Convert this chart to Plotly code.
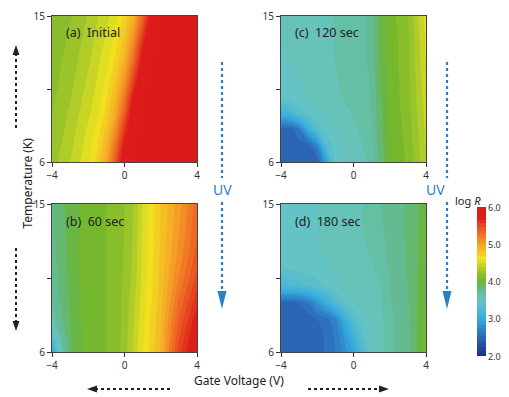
import plotly.graph_objects as go

# ---------------- data ----------------
VOLTS = [-4, -3.5, -3, -2.5, -2, -1.5, -1, -0.5, 0, 0.5, 1, 1.5, 2, 3, 4]   # gate voltage (V)
TEMPS = [6, 7, 8, 9, 10, 11, 12, 13.5, 15]                                 # temperature (K)

# log R, one row per temperature (bottom -> top), one column per gate voltage
Z_INITIAL = [
    [4.25, 4.33, 4.40, 4.49, 4.58, 4.75, 5.00, 5.45, 5.95, 6.00, 6.00, 6.00, 6.00, 6.00, 6.00],
    [4.23, 4.30, 4.37, 4.46, 4.55, 4.69, 4.91, 5.29, 5.82, 6.00, 6.00, 6.00, 6.00, 6.00, 6.00],
    [4.22, 4.27, 4.35, 4.43, 4.52, 4.63, 4.82, 5.13, 5.62, 5.97, 6.00, 6.00, 6.00, 6.00, 6.00],
    [4.20, 4.25, 4.32, 4.40, 4.48, 4.57, 4.74, 4.98, 5.42, 5.93, 6.00, 6.00, 6.00, 6.00, 6.00],
    [4.18, 4.23, 4.29, 4.37, 4.45, 4.54, 4.68, 4.90, 5.26, 5.79, 6.00, 6.00, 6.00, 6.00, 6.00],
    [4.17, 4.21, 4.27, 4.34, 4.42, 4.51, 4.62, 4.81, 5.10, 5.58, 5.97, 6.00, 6.00, 6.00, 6.00],
    [4.15, 4.20, 4.24, 4.32, 4.39, 4.48, 4.57, 4.73, 4.97, 5.39, 5.90, 6.00, 6.00, 6.00, 6.00],
    [4.13, 4.17, 4.22, 4.28, 4.35, 4.43, 4.52, 4.64, 4.83, 5.15, 5.65, 5.98, 6.00, 6.00, 6.00],
    [4.10, 4.15, 4.19, 4.24, 4.31, 4.39, 4.47, 4.56, 4.72, 4.95, 5.36, 5.88, 6.00, 6.00, 6.00],
]
Z_60S = [
    [3.00, 3.55, 3.88, 3.98, 4.03, 4.07, 4.10, 4.15, 4.25, 4.42, 4.60, 4.75, 4.92, 5.55, 5.92],
    [3.30, 3.70, 3.89, 3.98, 4.03, 4.07, 4.10, 4.15, 4.24, 4.41, 4.58, 4.73, 4.90, 5.48, 5.85],
    [3.60, 3.78, 3.90, 3.99, 4.03, 4.07, 4.10, 4.15, 4.23, 4.39, 4.57, 4.72, 4.88, 5.40, 5.78],
    [3.72, 3.80, 3.91, 3.99, 4.04, 4.07, 4.10, 4.15, 4.23, 4.37, 4.55, 4.70, 4.86, 5.32, 5.68],
    [3.75, 3.82, 3.92, 3.99, 4.04, 4.07, 4.10, 4.14, 4.22, 4.35, 4.54, 4.69, 4.84, 5.24, 5.58],
    [3.76, 3.83, 3.93, 4.00, 4.04, 4.07, 4.10, 4.14, 4.21, 4.33, 4.53, 4.68, 4.83, 5.18, 5.50],
    [3.77, 3.84, 3.94, 4.00, 4.04, 4.07, 4.10, 4.14, 4.21, 4.32, 4.52, 4.67, 4.82, 5.13, 5.44],
    [3.78, 3.85, 3.95, 4.00, 4.04, 4.07, 4.10, 4.14, 4.20, 4.31, 4.51, 4.66, 4.81, 5.09, 5.39],
    [3.78, 3.85, 3.95, 4.00, 4.04, 4.07, 4.10, 4.14, 4.20, 4.30, 4.50, 4.65, 4.80, 5.06, 5.35],
]
Z_120S = [
    [2.45, 2.45, 2.45, 2.45, 2.45, 2.90, 3.45, 3.50, 3.55, 3.58, 3.63, 3.84, 3.99, 4.12, 4.38],
    [2.45, 2.45, 2.45, 2.45, 2.70, 3.30, 3.45, 3.52, 3.56, 3.60, 3.67, 3.86, 4.00, 4.13, 4.40],
    [2.45, 2.45, 2.60, 3.00, 3.35, 3.45, 3.50, 3.54, 3.58, 3.62, 3.69, 3.87, 4.01, 4.14, 4.42],
    [3.10, 3.15, 3.35, 3.42, 3.47, 3.50, 3.53, 3.57, 3.61, 3.63, 3.70, 3.88, 4.02, 4.15, 4.44],
    [3.45, 3.46, 3.48, 3.50, 3.53, 3.55, 3.57, 3.61, 3.64, 3.67, 3.71, 3.90, 4.03, 4.16, 4.46],
    [3.47, 3.48, 3.50, 3.52, 3.54, 3.56, 3.59, 3.62, 3.65, 3.67, 3.71, 3.92, 4.03, 4.16, 4.48],
    [3.49, 3.50, 3.51, 3.52, 3.54, 3.56, 3.60, 3.63, 3.65, 3.68, 3.72, 3.93, 4.04, 4.17, 4.50],
    [3.50, 3.51, 3.52, 3.53, 3.55, 3.57, 3.605, 3.64, 3.66, 3.68, 3.72, 3.94, 4.04, 4.17, 4.52],
    [3.50, 3.51, 3.52, 3.53, 3.55, 3.57, 3.61, 3.64, 3.66, 3.68, 3.72, 3.95, 4.05, 4.20, 4.55],
]
Z_180S = [
    [2.42, 2.42, 2.43, 2.44, 2.46, 2.52, 2.60, 2.75, 2.92, 3.25, 3.45, 3.55, 3.67, 3.76, 4.06],
    [2.42, 2.42, 2.43, 2.44, 2.46, 2.52, 2.62, 2.82, 3.10, 3.38, 3.50, 3.56, 3.68, 3.77, 4.04],
    [2.42, 2.42, 2.43, 2.45, 2.50, 2.56, 2.69, 3.02, 3.30, 3.45, 3.52, 3.57, 3.68, 3.78, 4.02],
    [2.45, 2.46, 2.50, 2.60, 2.80, 3.00, 3.25, 3.40, 3.48, 3.53, 3.56, 3.59, 3.69, 3.79, 4.00],
    [3.20, 3.22, 3.25, 3.30, 3.36, 3.42, 3.47, 3.51, 3.54, 3.56, 3.57, 3.60, 3.70, 3.80, 3.99],
    [3.38, 3.40, 3.42, 3.44, 3.46, 3.49, 3.52, 3.54, 3.56, 3.57, 3.58, 3.63, 3.71, 3.81, 3.98],
    [3.44, 3.45, 3.46, 3.47, 3.49, 3.51, 3.53, 3.55, 3.57, 3.58, 3.61, 3.67, 3.72, 3.81, 3.97],
    [3.45, 3.46, 3.47, 3.48, 3.50, 3.52, 3.54, 3.56, 3.57, 3.595, 3.64, 3.69, 3.72, 3.82, 3.96],
    [3.45, 3.46, 3.47, 3.48, 3.50, 3.52, 3.54, 3.56, 3.57, 3.60, 3.66, 3.70, 3.72, 3.82, 3.95],
]
PANEL_LABELS = ["(a)  Initial", "(b)  60 sec", "(c)  120 sec", "(d)  180 sec"]
X_TICKS = [-4, 0, 4]
Y_TICKS = [6, 10.5, 15]
Y_TICK_TEXT = ["6", "", "15"]
CBAR_MIN, CBAR_MAX = 2, 6
CBAR_TICKS = [2, 3, 4, 5, 6]
CBAR_TEXT = ["2.0", "3.0", "4.0", "5.0", "6.0"]

# ---------------- layout helpers ----------------
# the page body adds an 8 px margin, so figure coordinates are target pixels minus 8
W, H = 509, 397
OFF = 8
def fx(p): return (p - OFF) / W
def fy(p): return 1 - (p - OFF) / H

FONT = "Noto Sans"
UVC = "#2b7fc4"
DARK = "#222222"

COLORSCALE = [
    [0.000, "#1a2f8c"],
    [0.125, "#2b66b5"],
    [0.250, "#36ace0"],
    [0.375, "#68c5c2"],
    [0.450, "#63b98a"],
    [0.500, "#6bb52e"],
    [0.575, "#a6c82a"],
    [0.650, "#f0e41f"],
    [0.750, "#f6a428"],
    [0.850, "#ec5a22"],
    [0.930, "#dd1c1b"],
    [1.000, "#dc1a1a"],
]

panels = [  # (z, x-range px, y-range px)
    (Z_INITIAL, (52, 197), (16, 162)),
    (Z_60S, (52, 197), (204, 352)),
    (Z_120S, (281, 426), (16, 162)),
    (Z_180S, (281, 426), (204, 352)),
]

fig = go.Figure()
layout = {}
annotations = []
for i, (z, (x0, x1), (y0, y1)) in enumerate(panels):
    n = "" if i == 0 else str(i + 1)
    fig.add_trace(go.Contour(
        x=VOLTS, y=TEMPS, z=z, coloraxis="coloraxis",
        autocontour=False,
        contours=dict(start=2, end=6, size=0.1, coloring="fill", showlines=False),
        line=dict(width=0, smoothing=0.9),
        xaxis="x" + n, yaxis="y" + n, hoverinfo="skip",
    ))
    layout["xaxis" + n] = dict(
        domain=[fx(x0), fx(x1)], anchor="y" + n, range=[-4, 4],
        tickvals=X_TICKS, ticks="outside", ticklen=4, tickcolor="#333",
        showline=True, mirror=True, linecolor="#444", linewidth=1,
        showgrid=False, zeroline=False,
        tickfont=dict(family=FONT, size=10, color="#333"),
    )
    layout["yaxis" + n] = dict(
        domain=[fy(y1), fy(y0)], anchor="x" + n, range=[6, 15],
        tickvals=Y_TICKS, ticktext=Y_TICK_TEXT, ticks="outside", ticklen=4,
        tickcolor="#333", showline=True, mirror=True, linecolor="#444",
        linewidth=1, showgrid=False, zeroline=False,
        tickfont=dict(family=FONT, size=10, color="#333"),
    )
    annotations.append(dict(
        text=PANEL_LABELS[i], xref="paper", yref="paper",
        x=fx(x0 + 12), y=fy(y0 + 17), xanchor="left", yanchor="middle",
        showarrow=False, font=dict(family=FONT, size=12.5, color=DARK),
    ))

# UV labels, axis titles, colorbar title
for ux in (222, 447):
    annotations.append(dict(text="UV", xref="paper", yref="paper",
                            x=fx(ux), y=fy(190), showarrow=False,
                            font=dict(family=FONT, size=14, color=UVC)))
annotations.append(dict(text="Temperature (K)", xref="paper", yref="paper",
                        x=fx(16), y=fy(183), textangle=-90, showarrow=False,
                        font=dict(family=FONT, size=12, color=DARK)))
annotations.append(dict(text="Gate Voltage (V)", xref="paper", yref="paper",
                        x=fx(239), y=fy(390), showarrow=False, borderpad=0,
                        font=dict(family=FONT, size=12, color=DARK)))
annotations.append(dict(text="log <i>R</i>", xref="paper", yref="paper",
                        x=fx(483), y=fy(200), showarrow=False,
                        font=dict(family=FONT, size=11, color=DARK)))

# colour bar geometry (pixels) and its tick labels placed beside the bar
CB_X, CB_TOP, CB_BOT, CB_THICK = 477, 207, 356, 9
for v, t in zip(CBAR_TICKS, CBAR_TEXT):
    ypx = CB_BOT - (v - CBAR_MIN) / (CBAR_MAX - CBAR_MIN) * (CB_BOT - CB_TOP)
    annotations.append(dict(text=t, xref="paper", yref="paper",
                            x=fx(CB_X + CB_THICK + 1), y=fy(ypx),
                            xanchor="left", yanchor="middle", showarrow=False,
                            borderpad=0, font=dict(family=FONT, size=9, color="#333")))

shapes = []
def vline(x, ya, yb, color, w=2.2):
    shapes.append(dict(type="line", xref="paper", yref="paper",
                       x0=fx(x), x1=fx(x), y0=fy(ya), y1=fy(yb),
                       line=dict(color=color, width=w, dash="dot")))
def hline(xa, xb, y, color, w=2.2):
    shapes.append(dict(type="line", xref="paper", yref="paper",
                       x0=fx(xa), x1=fx(xb), y0=fy(y), y1=fy(y),
                       line=dict(color=color, width=w, dash="dot")))
def tri(pts, color):
    path = "M " + " L ".join(f"{fx(a):.5f},{fy(b):.5f}" for a, b in pts) + " Z"
    shapes.append(dict(type="path", xref="paper", yref="paper", path=path,
                       fillcolor=color, line=dict(width=0)))

# UV arrows
for ux in (222, 447):
    vline(ux, 62, 178, UVC)
    vline(ux, 202, 292, UVC)
    tri([(ux - 4.5, 291), (ux + 4.5, 291), (ux, 309)], UVC)

# temperature arrows
vline(16, 128, 54, DARK, 2)
tri([(12.5, 55), (19.5, 55), (16, 45)], DARK)
vline(16, 248, 322, DARK, 2)
tri([(12.5, 321), (19.5, 321), (16, 331)], DARK)

# gate voltage arrows
hline(170, 97, 389, DARK, 2)
tri([(97, 385.5), (97, 392.5), (87, 389)], DARK)
hline(308, 379, 389, DARK, 2)
tri([(379, 385.5), (379, 392.5), (389, 389)], DARK)

fig.update_layout(
    width=W, height=H, margin=dict(l=0, r=0, t=0, b=0, autoexpand=False),
    paper_bgcolor="white", plot_bgcolor="white", showlegend=False,
    coloraxis=dict(
        cmin=CBAR_MIN, cmax=CBAR_MAX, colorscale=COLORSCALE,
        colorbar=dict(
            thickness=CB_THICK, thicknessmode="pixels",
            len=CB_BOT - CB_TOP, lenmode="pixels",
            x=fx(CB_X), xanchor="left", y=fy((CB_TOP + CB_BOT) / 2), yanchor="middle",
            tickvals=CBAR_TICKS, ticks="", showticklabels=False,
            outlinewidth=0, xpad=0, ypad=0,
        ),
    ),
    annotations=annotations, shapes=shapes,
    **layout,
)

fig.write_html("out.html")
